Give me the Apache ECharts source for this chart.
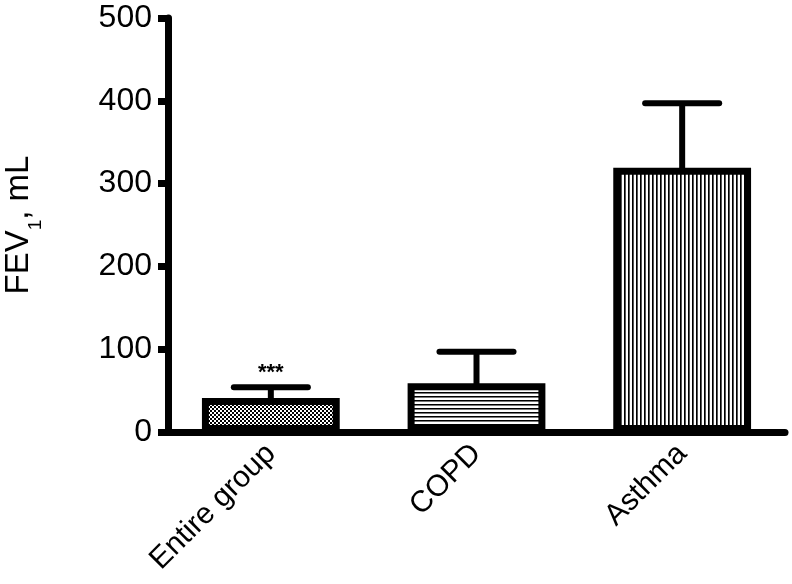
<!DOCTYPE html>
<html>
<head>
<meta charset="utf-8">
<script src="https://cdn.jsdelivr.net/npm/echarts@6/dist/echarts.min.js"></script>
<style>
    html, body { margin: 0; padding: 0; background: #fff; }
    #chart { width: 792px; height: 584px; }
</style>
</head>
<body>
<div id="chart"></div>
<script>
// group labels and values (mean + error bar)
var categories = ['Entire group', 'COPD', 'Asthma'];
var means = [41, 59, 319];
var errors = [13, 38, 78];
var sigLabels = ['***', '', ''];
var yTicks = [0, 100, 200, 300, 400, 500];

var FONT = '"Liberation Sans", Arial, sans-serif';

// small canvases used as hatch fills
function makePattern(kind) {
    var c = document.createElement('canvas');
    c.width = 4; c.height = 4;
    var ctx = c.getContext('2d');
    ctx.fillStyle = '#fff';
    ctx.fillRect(0, 0, 4, 4);
    ctx.fillStyle = '#000';
    if (kind === 'check') {
        ctx.fillRect(0, 0, 2, 2);
        ctx.fillRect(2, 2, 2, 2);
    } else if (kind === 'hline') {
        ctx.fillRect(0, 0, 4, 1);
        ctx.fillStyle = '#777';
        ctx.fillRect(0, 1, 4, 1);
    } else {
        ctx.fillRect(0, 0, 1, 4);
        ctx.fillStyle = '#555';
        ctx.fillRect(1, 0, 1, 4);
    }
    return { image: c, repeat: 'repeat' };
}
var fills = [makePattern('check'), makePattern('hline'), makePattern('vline')];

var chart = echarts.init(document.getElementById('chart'));

var option = {
    animation: false,
    backgroundColor: '#fff',
    grid: {
        left: 168,
        right: 7,
        top: 18,
        bottom: 152,
        outerBoundsMode: 'none'
    },
    xAxis: {
        type: 'category',
        data: categories,
        axisLine: { lineStyle: { color: '#000', width: 7 } },
        axisTick: { show: false },
        axisLabel: {
            rotate: 45,
            fontSize: 30,
            fontFamily: FONT,
            color: '#000',
            margin: 17
        }
    },
    yAxis: {
        type: 'value',
        min: yTicks[0],
        max: yTicks[yTicks.length - 1],
        interval: yTicks[1] - yTicks[0],
        splitLine: { show: false },
        axisLine: { show: true, lineStyle: { color: '#000', width: 7 } },
        axisTick: { show: true, length: 10, lineStyle: { color: '#000', width: 7 } },
        axisLabel: { fontSize: 32, fontFamily: FONT, color: '#000', margin: 16 },
        name: '{n|FEV}{s|1}{n|, mL}',
        nameLocation: 'middle',
        nameRotate: 90,
        nameGap: 133,
        nameTextStyle: {
            fontFamily: FONT,
            color: '#000',
            rich: {
                n: { fontSize: 33, fontFamily: FONT, color: '#000', lineHeight: 36, verticalAlign: 'bottom' },
                s: { fontSize: 19, fontFamily: FONT, color: '#000', lineHeight: 20, verticalAlign: 'bottom', padding: [0, 0, -10, 0] }
            }
        }
    },
    series: [
        {
            type: 'bar',
            barWidth: '67%',
            data: means.map(function (v, i) {
                return {
                    value: v,
                    itemStyle: { color: fills[i], borderColor: '#000', borderWidth: 7 }
                };
            }),
            z: 2
        },
        {
            type: 'custom',
            z: 3,
            data: categories.map(function (c, i) { return [i, means[i], errors[i]]; }),
            renderItem: function (params, api) {
                var i = api.value(0);
                var base = api.coord([i, api.value(1)]);
                var top = api.coord([i, api.value(1) + api.value(2)]);
                var half = api.size([1, 0])[0] * 0.18;
                var style = { stroke: '#000', lineWidth: 6, lineCap: 'round' };
                var children = [
                    { type: 'line', shape: { x1: base[0], y1: base[1] + 4, x2: top[0], y2: top[1] }, style: { stroke: '#000', lineWidth: 6 } },
                    { type: 'line', shape: { x1: top[0] - half, y1: top[1], x2: top[0] + half, y2: top[1] }, style: style }
                ];
                var sig = sigLabels[params.dataIndex];
                if (sig) {
                    children.push({
                        type: 'text',
                        style: {
                            x: top[0], y: top[1] - 3,
                            text: sig,
                            fill: '#000',
                            font: 'bold 22px ' + FONT,
                            textAlign: 'center',
                            textVerticalAlign: 'bottom'
                        }
                    });
                }
                return { type: 'group', children: children };
            }
        }
    ]
};

chart.setOption(option);
window.addEventListener('resize', function () {
    chart.resize();
});
</script>
</body>
</html>
